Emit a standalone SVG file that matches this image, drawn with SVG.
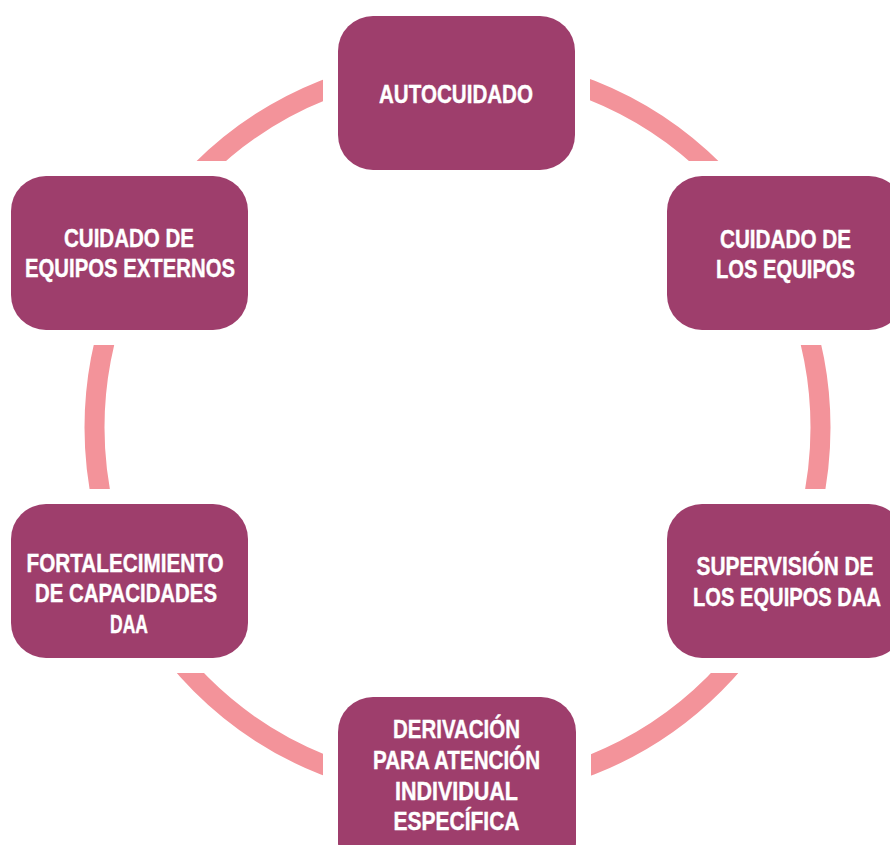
<svg xmlns="http://www.w3.org/2000/svg" width="890" height="845" viewBox="0 0 890 845">
  <style>
    .box { fill: #9E3E6C; }
    .lbl { fill: #FFFFFF; stroke: #FFFFFF; stroke-width: 0.4; font-family: "Liberation Sans Narrow", "Liberation Sans", Arial, sans-serif; font-weight: bold; font-size: 26.5px; text-anchor: middle; }
    .ring { fill: none; stroke: #F3939A; stroke-width: 20; }
  </style>
  <defs>
    <mask id="ringMask" maskUnits="userSpaceOnUse" x="0" y="0" width="890" height="845">
      <rect x="0" y="0" width="890" height="845" fill="#fff"/>
      <rect x="323" y="1" width="267" height="184" fill="#000"/>
      <rect x="652" y="161" width="267" height="184" fill="#000"/>
      <rect x="652" y="489" width="267" height="184" fill="#000"/>
      <rect x="323" y="682" width="268" height="184" fill="#000"/>
      <rect x="-4" y="161" width="267" height="184" fill="#000"/>
      <rect x="-4" y="489" width="267" height="184" fill="#000"/>
    </mask>
  </defs>
  <rect x="0" y="0" width="890" height="845" fill="#FFFFFF"/>
  <g id="connectors">
    <circle class="ring" cx="457.5" cy="427.5" r="363" mask="url(#ringMask)"/>
  </g>
  <g id="node-autocuidado">
    <rect class="box" x="338" y="16" width="237" height="154" rx="35"/>
    <text class="lbl" x="456" y="103" textLength="154" lengthAdjust="spacingAndGlyphs">AUTOCUIDADO</text>
  </g>
  <g id="node-cuidado-equipos">
    <rect class="box" x="667" y="176" width="237" height="154" rx="35"/>
    <text class="lbl" x="785.5" y="248" textLength="131" lengthAdjust="spacingAndGlyphs">CUIDADO DE</text>
    <text class="lbl" x="785.5" y="278" textLength="139" lengthAdjust="spacingAndGlyphs">LOS EQUIPOS</text>
  </g>
  <g id="node-supervision">
    <rect class="box" x="667" y="504" width="237" height="154" rx="35"/>
    <text class="lbl" x="785" y="575" textLength="177" lengthAdjust="spacingAndGlyphs">SUPERVISIÓN DE</text>
    <text class="lbl" x="787" y="606" textLength="188" lengthAdjust="spacingAndGlyphs">LOS EQUIPOS DAA</text>
  </g>
  <g id="node-derivacion">
    <rect class="box" x="338" y="697" width="238" height="180" rx="35"/>
    <text class="lbl" x="456.5" y="738" textLength="127" lengthAdjust="spacingAndGlyphs">DERIVACIÓN</text>
    <text class="lbl" x="456.5" y="769" textLength="167" lengthAdjust="spacingAndGlyphs">PARA ATENCIÓN</text>
    <text class="lbl" x="456.5" y="800" textLength="123" lengthAdjust="spacingAndGlyphs">INDIVIDUAL</text>
    <text class="lbl" x="456.5" y="830" textLength="126" lengthAdjust="spacingAndGlyphs">ESPECÍFICA</text>
  </g>
  <g id="node-fortalecimiento">
    <rect class="box" x="11" y="504" width="237" height="154" rx="35"/>
    <text class="lbl" x="125" y="572" textLength="197" lengthAdjust="spacingAndGlyphs">FORTALECIMIENTO</text>
    <text class="lbl" x="126" y="602" textLength="182" lengthAdjust="spacingAndGlyphs">DE CAPACIDADES</text>
    <text class="lbl" x="129" y="633" textLength="38" lengthAdjust="spacingAndGlyphs">DAA</text>
  </g>
  <g id="node-cuidado-externos">
    <rect class="box" x="11" y="176" width="237" height="154" rx="35"/>
    <text class="lbl" x="129" y="247" textLength="130" lengthAdjust="spacingAndGlyphs">CUIDADO DE</text>
    <text class="lbl" x="130" y="277" textLength="210" lengthAdjust="spacingAndGlyphs">EQUIPOS EXTERNOS</text>
  </g>
</svg>
